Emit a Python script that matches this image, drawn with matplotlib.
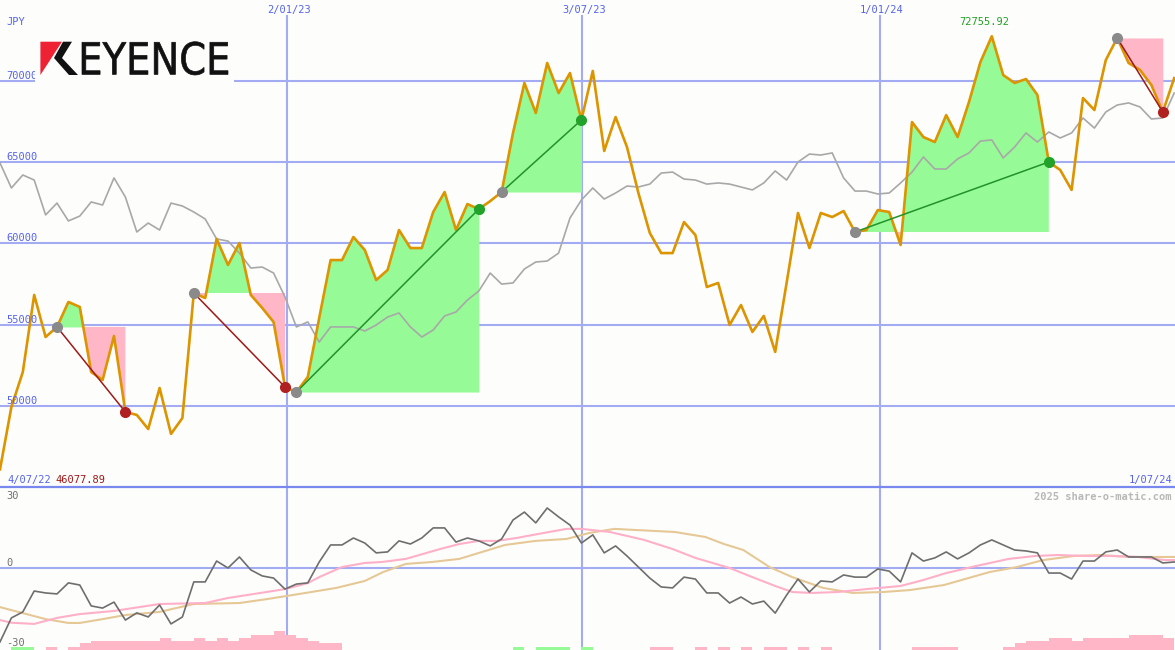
import matplotlib
matplotlib.use("Agg")
import matplotlib.pyplot as plt
import numpy as np
from matplotlib.patches import Polygon, Rectangle, PathPatch
from matplotlib.textpath import TextPath
from matplotlib.font_manager import FontProperties
from matplotlib.transforms import Affine2D, offset_copy

# weekly closes, JPY (one value per week, index 0..103)
price = [46077.89, 49920, 52070, 56820, 54230, 54850, 56390, 56080, 52070, 51580,
         54290, 49610, 49430, 48560, 51090, 48260, 49240, 56940, 56630, 60270,
         58670, 60020, 56820, 56020, 55150, 51150, 50840, 51770, 55400, 58970,
         58970, 60390, 59590, 57740, 58360, 60820, 59710, 59710, 61930, 63160,
         60820, 62420, 62110, 62600, 63160, 66800, 69880, 68030, 71110, 69260,
         70490, 67600, 70620, 65690, 67780, 65930, 63100, 60640, 59400, 59400,
         61310, 60510, 57310, 57560, 54970, 56200, 54540, 55530, 53310, 57560,
         61870, 59710, 61870, 61620, 61990, 60700, 60820, 62050, 61930, 59900,
         67470, 66550, 66240, 67900, 66550, 68710, 71170, 72755.92, 70370, 69880,
         70120, 69140, 65010, 64520, 63290, 68950, 68210, 71290, 72650, 71110,
         70680, 69750, 68090, 70180]

# moving average (grey)
avg = [64950, 63410, 64210, 63900, 61750, 62480, 61380, 61680, 62550, 62360,
       64030, 62850, 60700, 61250, 60820, 62480, 62300, 61930, 61500, 60270,
       60140, 59400, 58480, 58540, 58170, 56690, 54850, 55160, 53920, 54850,
       54850, 54850, 54600, 54970, 55460, 55710, 54850, 54230, 54660, 55530,
       55770, 56510, 57060, 58170, 57490, 57560, 58420, 58850, 58910, 59400,
       61560, 62670, 63410, 62730, 63100, 63530, 63470, 63650, 64330, 64390,
       63960, 63900, 63650, 63720, 63650, 63470, 63290, 63720, 64460, 63900,
       65010, 65500, 65440, 65570, 64030, 63220, 63220, 63040, 63100, 63720,
       64390, 65320, 64580, 64580, 65200, 65570, 66300, 66370, 65260, 65930,
       66800, 66240, 66860, 66490, 66800, 67720, 67100, 68090, 68520, 68650,
       68400, 67660, 67720, 69260]

# trades: (entry week, exit week)
trades = [(5, 11), (17, 25), (26, 42), (44, 51), (75, 92), (98, 102)]

# lower panel oscillator
osc = [-30.8, -20.8, -18.3, -9.6, -10.4, -10.8, -6.2, -7.1, -15.8, -16.7,
       -14.2, -21.7, -18.7, -20.4, -15.4, -23.3, -20.4, -5.8, -5.8, 2.9,
       0.0, 4.6, -0.8, -3.3, -4.2, -8.8, -6.7, -6.2, 2.5, 9.6,
       9.6, 12.5, 10.4, 6.3, 6.7, 11.3, 10.0, 12.5, 16.7, 16.7,
       10.8, 12.5, 11.3, 9.2, 12.1, 20.0, 23.3, 18.8, 25.0, 21.3,
       17.9, 10.4, 13.8, 6.3, 9.2, 5.0, 0.4, -4.2, -7.9, -8.3,
       -3.8, -4.6, -10.4, -10.4, -14.6, -12.1, -15.0, -13.8, -18.8, -11.3,
       -4.6, -10.0, -5.4, -5.8, -2.9, -3.8, -3.8, -0.4, -1.3, -5.8,
       6.3, 2.9, 4.2, 6.7, 3.8, 6.3, 9.6, 11.7, 9.6, 7.5,
       7.1, 6.3, -2.1, -2.1, -4.6, 2.9, 2.9, 6.7, 7.5, 4.6,
       4.6, 4.6, 2.1, 2.5]

sig_fast_k = [0, 1, 3, 5, 7, 10, 14, 18, 20, 25, 27, 28, 30, 32, 33.5, 35.6, 38.6, 40.3,
              42, 43.6, 45.3, 47.7, 49.7, 51, 53.5, 56.5, 59, 61, 64, 66, 68, 69.5,
              71.2, 73.5, 76, 79, 81, 83, 85.6, 88.5, 90.8, 92.8, 95.5, 97.5, 99.8,
              102.2, 103.1]
sig_fast = [-21.7, -22.8, -23.3, -20.8, -19.2, -17.9, -15.0, -14.6, -12.5, -8.8, -6.3,
            -3.8, 0.4, 2.1, 2.5, 3.8, 7.9, 10.0, 11.3, 11.3, 12.5, 14.6, 16.3, 16.3,
            15.0, 11.7, 7.9, 4.2, 0.0, -3.8, -7.5, -10.0, -10.4, -10.0, -8.8, -7.5,
            -5.0, -2.1, 0.8, 3.8, 5.0, 5.4, 5.0, 5.0, 4.6, 3.3, 3.3]

sig_slow_k = [0, 2, 4, 6, 7, 9, 11, 14, 17, 21, 23.5, 26.8, 29.5, 32, 33.6, 35.6, 37.9,
              40.3, 42.3, 44.3, 47, 49.7, 51.7, 53.9, 55.9, 59.2, 61.9, 63.5, 65.2,
              67.5, 69.5, 72.2, 74.8, 77.5, 79.8, 82.8, 86.8, 89.2, 91.5, 94.2, 96.5,
              99.2, 103.1]
sig_slow = [-16.3, -18.8, -21.3, -22.9, -22.9, -21.3, -19.6, -18.3, -15.0, -14.6, -12.9,
            -10.4, -8.3, -5.4, -1.7, 1.7, 2.5, 3.8, 6.7, 9.6, 11.3, 12.1, 14.6, 16.3,
            15.8, 15.0, 12.9, 10.0, 7.5, 0.4, -3.8, -8.3, -10.4, -10.0, -9.2, -7.1,
            -1.7, 0.4, 3.3, 5.0, 5.4, 4.6, 4.6]

# histogram strip at the bottom
hist_down_k = [4, 6, 7, 8, 9, 10, 11, 12, 13, 14, 15, 16, 17, 18, 19, 20, 21, 22, 23, 24,
               25, 26, 27, 28, 29, 57, 58, 61, 63, 65, 67, 68, 70, 72, 80, 81, 82, 83,
               88, 89, 90, 91, 92, 93, 94, 95, 96, 97, 98, 99, 100, 101, 102]
hist_down_h = [1.4, 1.4, 2.9, 3.8, 3.8, 3.8, 3.8, 3.8, 3.8, 5.0, 3.8, 3.8, 5.0, 3.8, 5.0,
               3.8, 5.0, 6.3, 6.3, 7.9, 6.3, 5.0, 3.8, 2.9, 2.9,
               1.4, 1.4, 1.4, 1.4, 1.4, 1.4, 1.4, 1.4, 1.4, 1.4, 1.4, 1.4, 1.4,
               1.4, 2.9, 3.8, 3.8, 5.0, 5.0, 3.8, 5.0, 5.0, 5.0, 5.0, 6.3, 6.3, 6.3, 5.0]
hist_up_k = [1, 2, 45, 47, 48, 49, 51]
hist_up_h = [1.4, 1.4, 1.4, 1.4, 1.4, 1.4, 1.4]

date_labels = ['2/01/23', '3/07/23', '1/01/24']
date_pos = [25.18, 51.03, 77.19]
price_ticks = [50000, 55000, 60000, 65000, 70000]
osc_labels = ['30', '0', '-30']

BG = '#FDFEFC'
GRID = '#A3ACF2'
LBL = '#5563EE'
GREEN_FILL = '#96FA96'
PINK_FILL = '#FFB6C6'
ORANGE = '#DC9400'
MONO = 'DejaVu Sans Mono'

W, H = 1175, 650
fig = plt.figure(figsize=(W / 100, H / 100), dpi=100)
fig.patch.set_facecolor(BG)

ax1 = fig.add_axes([0, 163 / H, 1, 487 / H])
ax2 = fig.add_axes([0, 0, 1, 163 / H])
for ax in (ax1, ax2):
    ax.set_facecolor(BG)
    ax.set_xticks([])
    ax.set_yticks([])
    for s in ax.spines.values():
        s.set_visible(False)
    ax.set_xlim(0, W / 11.4)

ax1.set_ylim(44990, 74990)
ax2.set_ylim(-34.17, 33.75)

x = np.arange(len(price))
p = np.array(price)

# grid
for v in price_ticks:
    ax1.axhline(v, color=GRID, lw=1.5, zorder=1)
for d in date_pos:
    ax1.axvline(d, ymin=0, ymax=(487 - 16) / 487, color=GRID, lw=1.5, zorder=1)
    ax2.axvline(d, color=GRID, lw=1.5, zorder=1)
ax2.axhline(0, color=GRID, lw=1.5, zorder=1)

# trade fills
for a, b in trades:
    xs = x[a:b + 1]
    ps = p[a:b + 1]
    lvl = p[a]
    ax1.fill_between(xs, ps, lvl, where=ps >= lvl, interpolate=True,
                     color=GREEN_FILL, lw=0, zorder=2)
    ax1.fill_between(xs, ps, lvl, where=ps <= lvl, interpolate=True,
                     color=PINK_FILL, lw=0, zorder=2)

ax1.plot(x, avg, color='#A8A8A8', lw=1.2, zorder=3)
ax1.plot(x, price, color=ORANGE, lw=1.9, zorder=4)

for a, b in trades:
    win = p[b] > p[a]
    c_line = '#22922A' if win else '#A01818'
    c_dot = '#22A22A' if win else '#B02020'
    ax1.plot([a, b], [p[a], p[b]], color=c_line, lw=1.1, zorder=5)
    ax1.plot(a, p[a], 'o', ms=7, color='#8A8A8A', zorder=6)
    ax1.plot(b, p[b], 'o', ms=7, color=c_dot, zorder=6)

# lower panel
ax2.bar(np.array(hist_down_k) + 0.5, hist_down_h, width=1.0, bottom=-34.17,
        color=PINK_FILL, lw=0, zorder=2)
ax2.bar(np.array(hist_up_k) + 0.5, hist_up_h, width=1.0, bottom=-34.17,
        color=GREEN_FILL, lw=0, zorder=2)
ax2.plot(sig_slow_k, sig_slow, color='#E6C896', lw=1.5, zorder=3)
ax2.plot(sig_fast_k, sig_fast, color='#FFB0C8', lw=1.5, zorder=3)
ax2.plot(x, osc, color='#6E6E6E', lw=1.2, zorder=4)

# price labels sit just above their grid lines
fs = 7.5
t1 = offset_copy(ax1.get_yaxis_transform(), fig=fig, x=6, y=2, units='dots')
for v in price_ticks:
    ax1.text(0, v, str(v), transform=t1, color=LBL, fontsize=fs, family=MONO,
             va='baseline', ha='left', zorder=7)

# overlay in pixel coordinates for header texts and logo
ov = fig.add_axes([0, 0, 1, 1], zorder=10)
ov.set_xlim(0, W)
ov.set_ylim(H, 0)
ov.axis('off')
ov.patch.set_alpha(0)

ov.plot([0, W], [487, 487], color='#7888EE', lw=1.6)
ov.text(6, 25, 'JPY', color=LBL, fontsize=fs, family=MONO, va='baseline')
for lab, d in zip(date_labels, date_pos):
    ov.text(d * 11.4 + 2, 13, lab, color=LBL, fontsize=fs, family=MONO,
            ha='center', va='baseline')
ov.text(984, 25, f'{max(price):.2f}', color='#22A022', fontsize=fs, family=MONO,
        ha='center', va='baseline')
ov.text(7, 483, '4/07/22', color=LBL, fontsize=fs, family=MONO, va='baseline')
ov.text(55, 483, f'{min(price):.2f}', color='#A01818', fontsize=fs, family=MONO,
        va='baseline')
ov.text(1172, 483, '1/07/24', color=LBL, fontsize=fs, family=MONO, ha='right',
        va='baseline')
ov.text(1172, 500, '2025 share-o-matic.com', color='#B8B8B8', fontsize=fs,
        family=MONO, weight='bold', ha='right', va='baseline')
for lab, yb in zip(osc_labels, [499, 566, 646]):
    ov.text(6, yb, lab, color='#707070', fontsize=fs, family=MONO, va='baseline')

# logo
ov.add_patch(Rectangle((35, 33), 199, 52, color=BG, lw=0))
ov.add_patch(Polygon([(40.4, 41.7), (62, 41.7), (40.4, 75)], closed=True,
                     color='#EE2233', lw=0))
ov.add_patch(Polygon([(63, 41.7), (72, 41.7), (62, 58), (78, 75), (69, 75),
                      (54, 58)], closed=True, color='#111111', lw=0))
tp = TextPath((0, 0), 'EYENCE', size=1, prop=FontProperties(family='DejaVu Sans'))
ext = tp.get_extents()
sx = (228 - 82) / ext.width
sy = (75 - 41.7) / ext.height
tr = Affine2D().translate(-ext.x0, -ext.y0).scale(sx, -sy).translate(82, 75)
ov.add_patch(PathPatch(tr.transform_path(tp), facecolor='#111111',
                       edgecolor='#111111', lw=0.5))

fig.savefig('out.png', dpi=100, facecolor=BG)
